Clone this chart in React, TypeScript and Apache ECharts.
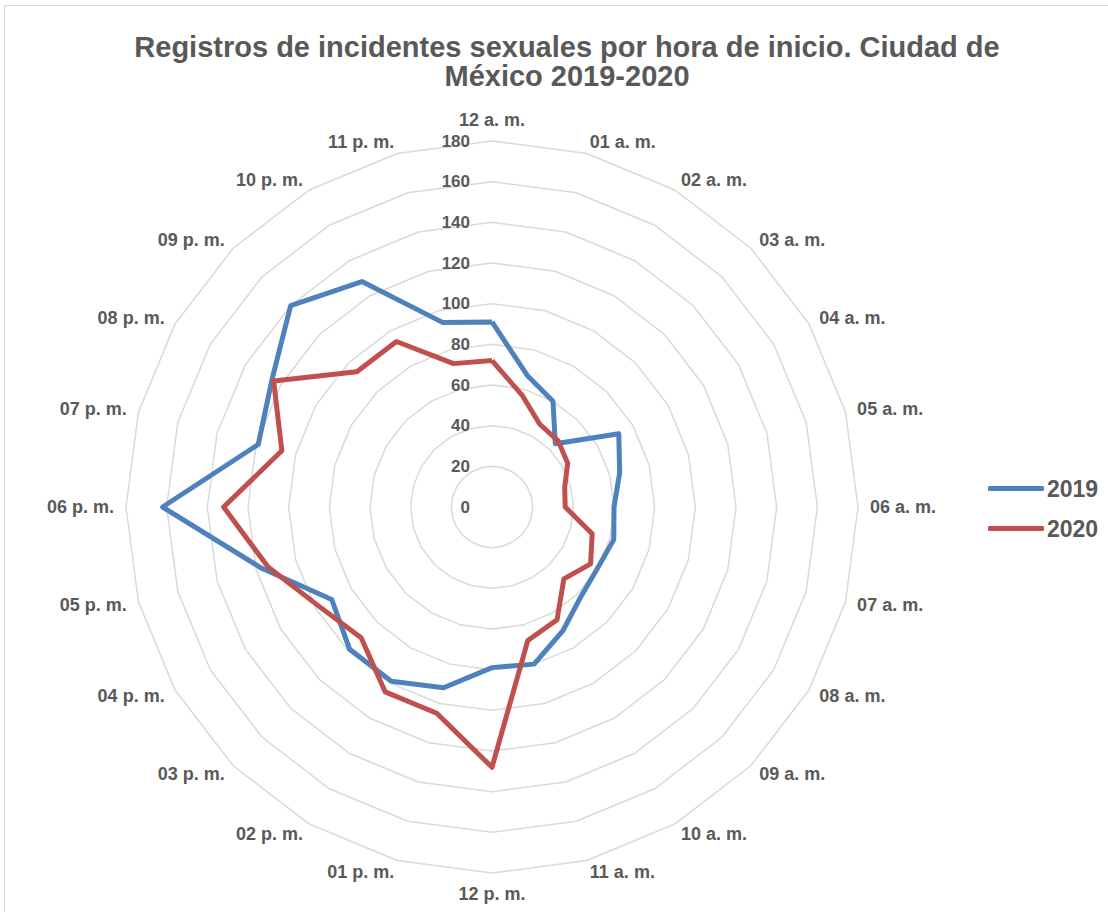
import React, { useEffect, useRef } from "react";
import * as echarts from "echarts";

const hours = [
  "12 a. m.", "01 a. m.", "02 a. m.", "03 a. m.", "04 a. m.", "05 a. m.",
  "06 a. m.", "07 a. m.", "08 a. m.", "09 a. m.", "10 a. m.", "11 a. m.",
  "12 p. m.", "01 p. m.", "02 p. m.", "03 p. m.", "04 p. m.", "05 p. m.",
  "06 p. m.", "07 p. m.", "08 p. m.", "09 p. m.", "10 p. m.", "11 p. m.",
];
const values2019 = [91, 67, 60, 44, 72, 65, 60, 62, 60, 62, 70, 80, 79, 92, 99, 99, 91, 117, 162, 119, 125, 140, 128, 94];
const values2020 = [72, 57, 47, 46, 43, 37, 36, 51, 56, 50, 64, 68, 128, 105, 105, 91, 98, 114, 132, 107, 124, 94, 94, 73];
const seriesNames = ["2019", "2020"];
const axisMin = 0;
const axisMax = 180;
const axisStep = 20;
const titleText = "Registros de incidentes sexuales por hora de inicio. Ciudad de\nMéxico 2019-2020";

const FONT = "'Liberation Sans', Arial, sans-serif";
const GREY = "#595959";

// ECharts radar goes counter-clockwise; reorder to get a clockwise layout
const order = [0, ...hours.slice(1).map((_, i) => hours.length - 1 - i)];

export default function App() {
  const ref = useRef<HTMLDivElement>(null);
  useEffect(() => {
    if (!ref.current) return;
    const chart = echarts.init(ref.current, undefined, { renderer: "svg" });
    const indicator = order.map((idx, k) => {
      const ind: any = { name: hours[idx], min: axisMin, max: axisMax };
      if (k === 0) {
        ind.axisLabel = {
          show: true,
          color: GREY,
          fontFamily: FONT,
          fontWeight: "bold",
          fontSize: 17,
          margin: 22,
        };
      }
      return ind;
    });
    chart.setOption({
      animation: false,
      backgroundColor: "#ffffff",
      graphic: [
        {
          type: "rect",
          shape: { x: 4.5, y: 5.5, width: 1200, height: 1000 },
          style: { fill: "none", stroke: "#d9d9d9", lineWidth: 1 },
          silent: true,
        },
        {
          type: "text",
          x: 567,
          y: 32,
          style: {
            text: titleText,
            font: `bold 29px ${FONT}`,
            fill: GREY,
            textAlign: "center",
            lineHeight: 29,
          },
        },
      ],
      legend: {
        orient: "vertical",
        left: 983,
        top: 472,
        itemWidth: 56,
        itemHeight: 5,
        itemGap: 17,
        icon: "roundRect",
        data: seriesNames,
        textStyle: { color: GREY, fontFamily: FONT, fontWeight: "bold", fontSize: 23, padding: [0, 0, 0, -2] },
      },
      radar: {
        center: [492, 507],
        radius: 366,
        startAngle: 90,
        shape: "polygon",
        splitNumber: (axisMax - axisMin) / axisStep,
        indicator,
        axisName: {
          color: GREY,
          fontFamily: FONT,
          fontWeight: "bold",
          fontSize: 18,
        },
        nameGap: 12,
        axisLine: { show: false },
        axisTick: { show: false },
        axisLabel: { show: false },
        splitLine: { lineStyle: { color: "#d9d9d9", width: 1.5 } },
        splitArea: { show: false },
      },
      series: [
        {
          type: "radar",
          symbol: "none",
          data: [
            {
              name: seriesNames[0],
              value: order.map((i) => values2019[i]),
              lineStyle: { color: "#4F81BD", width: 5, join: "round" },
              itemStyle: { color: "#4F81BD" },
            },
            {
              name: seriesNames[1],
              value: order.map((i) => values2020[i]),
              lineStyle: { color: "#C0504D", width: 5, join: "round" },
              itemStyle: { color: "#C0504D" },
            },
          ],
        },
      ],
    });
    return () => chart.dispose();
  }, []);
  return (
    <div
      ref={ref}
      style={{ position: "fixed", left: 0, top: 0, width: 1108, height: 912 }}
    />
  );
}
